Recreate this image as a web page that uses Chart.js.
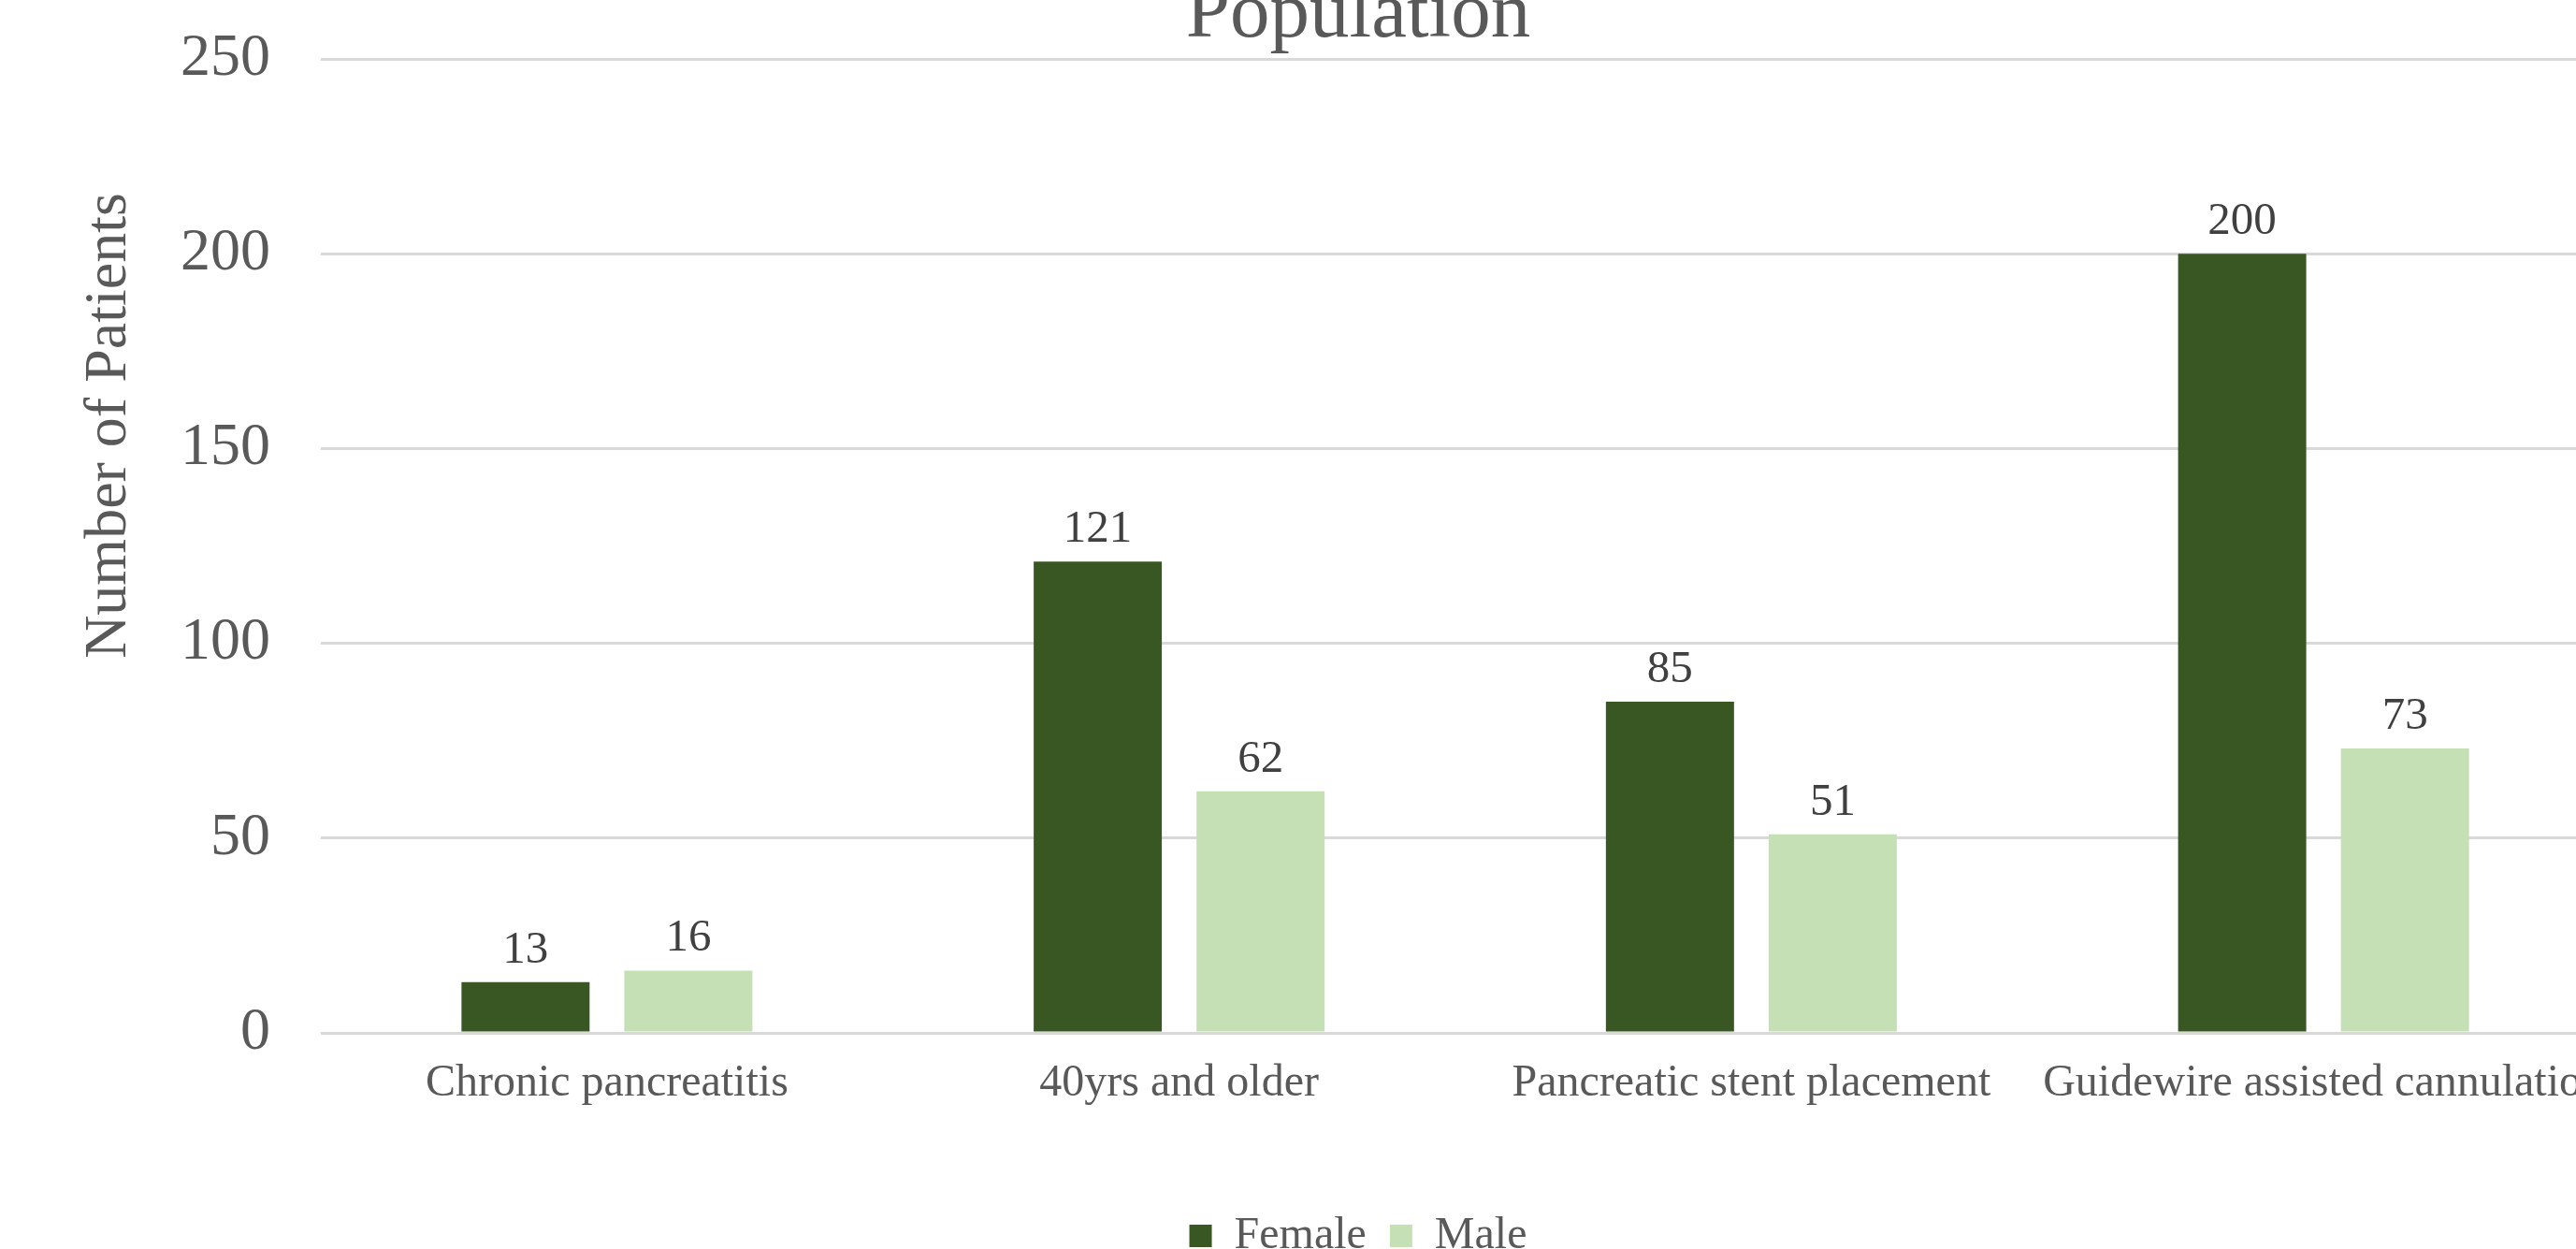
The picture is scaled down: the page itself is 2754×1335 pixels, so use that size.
<!DOCTYPE html>
<html>
<head>
<meta charset="utf-8">
<script src="https://cdn.jsdelivr.net/npm/chart.js@4/dist/chart.umd.min.js"></script>
<style>
  html, body { margin: 0; padding: 0; background: #ffffff; overflow: hidden; width: 2754px; height: 1335px; }
  #wrap { position: absolute; left: 0; top: -100px; }
  canvas { display: block; }
</style>
</head>
<body>
<div id="wrap"><canvas id="chart" width="2904" height="1460"></canvas></div>
<script>
// Patient counts per subgroup, split by sex
const categories = ['Chronic pancreatitis', '40yrs and older', 'Pancreatic stent placement', 'Guidewire assisted cannulation'];
const femaleCounts = [13, 121, 85, 200];
const maleCounts = [16, 62, 51, 73];
const seriesNames = ['Female', 'Male'];
const yTicks = [0, 50, 100, 150, 200, 250];
const titleText = 'Population';
const yAxisTitle = 'Number of Patients';

const SERIF = "'Liberation Serif', 'Times New Roman', serif";
Chart.defaults.font.family = SERIF;

// Numbers printed above each bar
const valueLabels = {
  id: 'valueLabels',
  afterDatasetsDraw(chart) {
    const ctx = chart.ctx;
    ctx.save();
    ctx.font = '49px ' + SERIF;
    ctx.fillStyle = '#404040';
    ctx.textAlign = 'center';
    ctx.textBaseline = 'alphabetic';
    chart.data.datasets.forEach((ds, di) => {
      const meta = chart.getDatasetMeta(di);
      meta.data.forEach((bar, i) => {
        ctx.fillText(String(ds.data[i]), bar.x, bar.y - 21);
      });
    });
    ctx.restore();
  }
};

// Rotated title for the value axis
const valueAxisTitle = {
  id: 'valueAxisTitle',
  afterDraw(chart) {
    const ctx = chart.ctx;
    ctx.save();
    ctx.font = '64px ' + SERIF;
    ctx.fillStyle = '#595959';
    ctx.textAlign = 'center';
    ctx.textBaseline = 'alphabetic';
    ctx.translate(134, 555);
    ctx.rotate(-Math.PI / 2);
    ctx.fillText(yAxisTitle, 0, 0);
    ctx.restore();
  }
};

new Chart(document.getElementById('chart'), {
  type: 'bar',
  data: {
    labels: categories,
    datasets: [
      { label: seriesNames[0], data: femaleCounts, backgroundColor: '#385723', borderWidth: 0,
        categoryPercentage: 0.569, barPercentage: 0.787 },
      { label: seriesNames[1], data: maleCounts, backgroundColor: '#C5E0B4', borderWidth: 0,
        categoryPercentage: 0.569, barPercentage: 0.787 }
    ]
  },
  options: {
    responsive: false,
    devicePixelRatio: 1,
    animation: false,
    layout: { padding: { left: 114, right: 114, top: 69.5, bottom: 5 } },
    plugins: {
      title: {
        display: true,
        text: titleText,
        color: '#595959',
        font: { size: 85, weight: 'normal', family: SERIF, lineHeight: 1.1 },
        padding: { top: 0, bottom: 0 }
      },
      legend: {
        display: true,
        position: 'bottom',
        labels: {
          color: '#595959',
          font: { size: 48, family: SERIF },
          boxWidth: 24,
          boxHeight: 24,
          padding: 25
        }
      },
      tooltip: { enabled: false }
    },
    scales: {
      x: {
        grid: { display: false, drawTicks: false },
        border: { display: false },
        ticks: {
          color: '#595959',
          font: { size: 48, family: SERIF },
          padding: 26,
          maxRotation: 0,
          minRotation: 0,
          autoSkip: false
        },
        afterFit(scale) { scale.height = 168; }
      },
      y: {
        min: yTicks[0],
        max: yTicks[yTicks.length - 1],
        afterBuildTicks(scale) { scale.ticks = yTicks.map(v => ({ value: v })); },
        grid: { color: '#D9D9D9', lineWidth: 3, drawTicks: false },
        border: { display: false },
        ticks: {
          color: '#595959',
          font: { size: 64, family: SERIF },
          padding: 54
        },
        afterFit(scale) { scale.width = 229; }
      }
    }
  },
  plugins: [valueLabels, valueAxisTitle]
});
</script>
</body>
</html>
